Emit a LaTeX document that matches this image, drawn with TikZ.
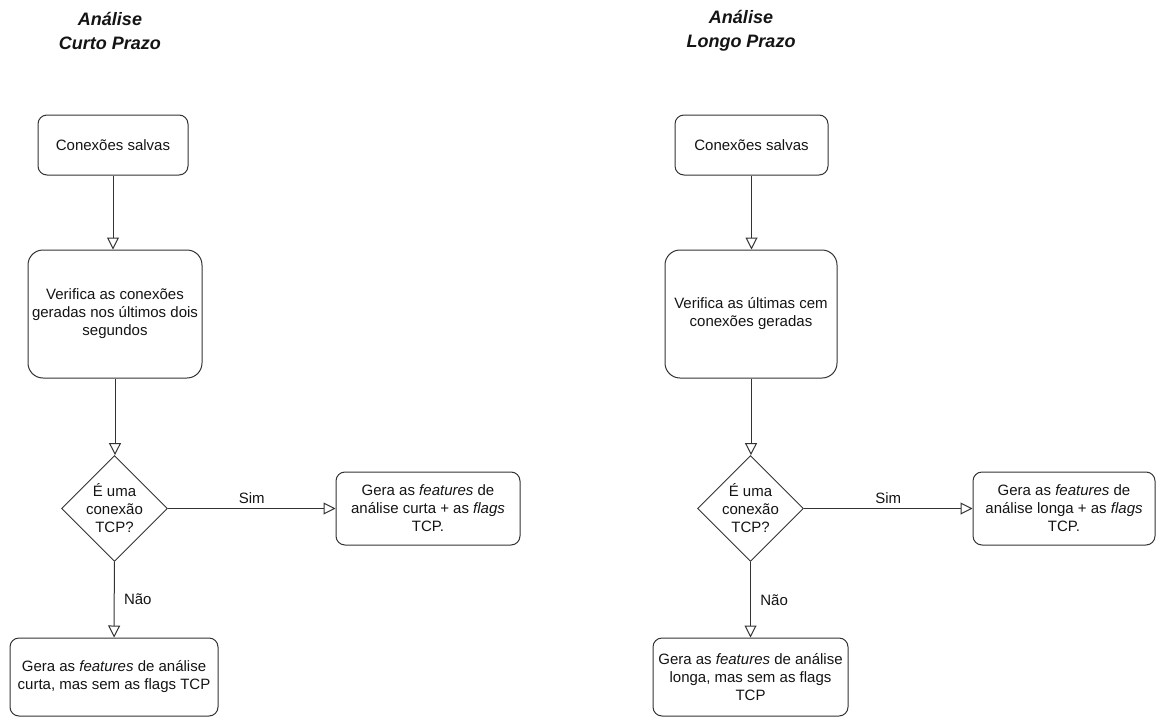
\documentclass[tikz,border=0pt]{standalone}
\usepackage{fontspec}
\setmainfont{Liberation Sans}
\usetikzlibrary{arrows.meta,positioning,shapes.geometric}
\definecolor{linegray}{RGB}{51,51,51}
\definecolor{txtdark}{RGB}{20,20,20}

\begin{document}
\begin{tikzpicture}[x=1pt,y=-1pt,
    every node/.style={font=\fontsize{15}{18}\selectfont, text=txtdark},
    box/.style={draw=linegray, line width=1pt, rounded corners=9pt, align=center, inner sep=0pt},
    decision/.style={draw=linegray, line width=1pt, diamond, align=center, inner sep=0pt,
      minimum width=105pt, minimum height=103pt},
    flow/.style={draw=linegray, line width=1pt, -{Triangle[open, length=12pt, width=12pt]}},
    titletxt/.style={font=\fontsize{18}{24}\selectfont\bfseries\itshape, align=center}]
        \useasboundingbox (0,0) rectangle (1156,717);
        % Curto prazo
        \node[titletxt] (titleC) at (110,31) {Análise\\Curto Prazo};
        \node[box, minimum width=150, minimum height=60] (salvasC) at (113,145) {Conexões salvas};
        \node[box, rounded corners=15pt, minimum width=174, minimum height=128] (verificaC) at (115,314)
          {Verifica as conexões\\geradas nos últimos dois\\segundos};
        \node[decision] (tcpC) at (114.5,508.5) {É uma\\conexão\\TCP?};
        \node[box, minimum width=184, minimum height=73] (flagsC) at (428,508.5)
          {Gera as \textit{features} de\\análise curta + as \textit{flags}\\TCP.};
        \node[box, minimum width=208, minimum height=78] (semflagsC) at (114,677)
          {Gera as \textit{features} de análise\\curta, mas sem as flags TCP};
        % Longo prazo
        \node[titletxt] (titleL) at (741,31) {Análise\\Longo Prazo};
        \node[box, minimum width=153, minimum height=60] (salvasL) at (751.5,145) {Conexões salvas};
        \node[box, rounded corners=15pt, minimum width=172, minimum height=128] (verificaL) at (751,314)
          {Verifica as últimas cem\\conexões geradas};
        \node[decision] (tcpL) at (750.5,508.5) {É uma\\conexão\\TCP?};
        \node[box, minimum width=182, minimum height=73] (flagsL) at (1064,508.5)
          {Gera as \textit{features} de\\análise longa + as \textit{flags}\\TCP.};
        \node[box, minimum width=195, minimum height=78] (semflagsL) at (750.5,677)
          {Gera as \textit{features} de análise\\longa, mas sem as flags\\TCP};
        % Arrows
        \draw[flow] (salvasC) -- (salvasC |- verificaC.north);
        \draw[flow] (verificaC) -- (verificaC |- tcpC.north);
        \draw[flow] (tcpC) -- node[midway,above=1pt]{Sim} (flagsC);
        \draw[flow] (tcpC) -- node[midway,right=6pt]{Não} (semflagsC);
        \draw[flow] (salvasL) -- (salvasL |- verificaL.north);
        \draw[flow] (verificaL) -- (verificaL |- tcpL.north);
        \draw[flow] (tcpL) -- node[midway,above=1pt]{Sim} (flagsL);
        \draw[flow] (tcpL) -- node[midway,right=6pt]{Não} (semflagsL);
      \end{tikzpicture}
\end{document}
